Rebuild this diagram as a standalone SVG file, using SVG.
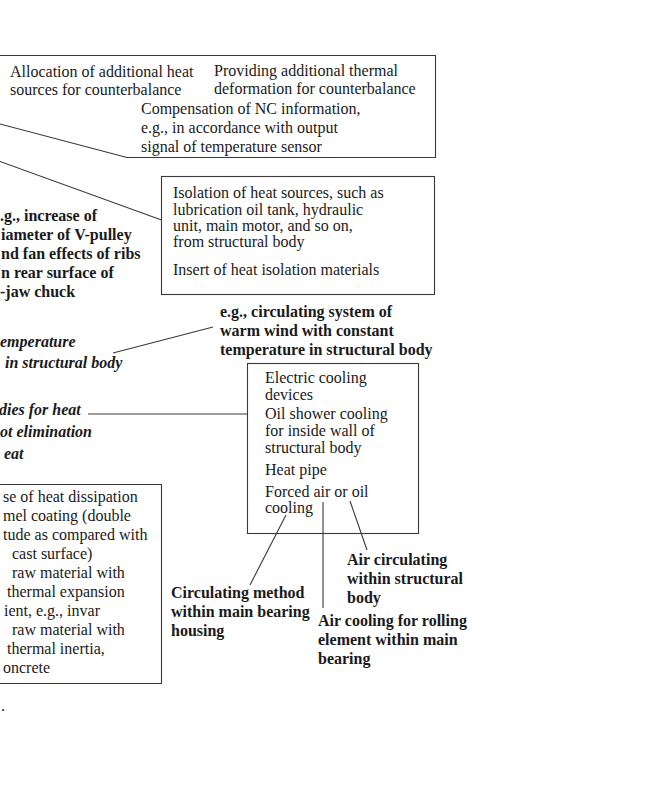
<svg xmlns="http://www.w3.org/2000/svg" width="652" height="800" viewBox="0 0 652 800">
<style>
text{font-family:"Liberation Serif","Times New Roman",serif;font-size:16px;fill:#1a1a1a}
.b{font-weight:bold}
.bi{font-weight:bold;font-style:italic}
.box{fill:none;stroke:#3a3a3a;stroke-width:1.1}
.ln{fill:none;stroke:#3a3a3a;stroke-width:1.1}
</style>
<rect width="652" height="800" fill="#fff"/>
<g id="connectors">
<line class="ln" x1="0" y1="124" x2="127" y2="157.5"/>
<line class="ln" x1="0" y1="161.5" x2="161.5" y2="220"/>
<line class="ln" x1="113" y1="353" x2="213" y2="327"/>
<line class="ln" x1="88" y1="414" x2="247" y2="414"/>
<line class="ln" x1="286" y1="515" x2="250" y2="585"/>
<line class="ln" x1="323" y1="502" x2="323" y2="608"/>
<line class="ln" x1="350" y1="501" x2="367" y2="550"/>
</g>
<g id="node-counterbalance">
<path class="box" d="M0,55.5 H435.5 V157.5 H127"/>
<text x="10" y="77">Allocation of additional heat</text>
<text x="10" y="95">sources for counterbalance</text>
<text x="214" y="76">Providing additional thermal</text>
<text x="214" y="94">deformation for counterbalance</text>
<text x="141" y="114">Compensation of NC information,</text>
<text x="141" y="133">e.g., in accordance with output</text>
<text x="141" y="152">signal of temperature sensor</text>
</g>
<g id="node-isolation">
<rect class="box" x="161.5" y="176.5" width="273" height="118"/>
<text x="173" y="198">Isolation of heat sources, such as</text>
<text x="173" y="215">lubrication oil tank, hydraulic</text>
<text x="173" y="231">unit, main motor, and so on,</text>
<text x="173" y="247">from structural body</text>
<text x="173" y="275">Insert of heat isolation materials</text>
</g>
<g id="node-vpulley">
<text class="b" x="0" y="221">.g., increase of</text>
<text class="b" x="1" y="240">iameter of V-pulley</text>
<text class="b" x="1" y="259">nd fan effects of ribs</text>
<text class="b" x="1" y="278">n rear surface of</text>
<text class="b" x="0" y="297">-jaw chuck</text>
</g>
<g id="node-constant-temp">
<text class="bi" x="0" y="347">emperature</text>
<text class="bi" x="5" y="368">in structural body</text>
</g>
<g id="node-warm-wind">
<text class="b" x="220" y="317">e.g., circulating system of</text>
<text class="b" x="220" y="336">warm wind with constant</text>
<text class="b" x="220" y="355">temperature in structural body</text>
</g>
<g id="node-remedies">
<text class="bi" x="-1" y="415">dies for heat</text>
<text class="bi" x="0" y="437">ot elimination</text>
<text class="bi" x="4" y="459">eat</text>
</g>
<g id="node-cooling">
<rect class="box" x="247.5" y="363.5" width="171" height="170"/>
<text x="265" y="383">Electric cooling</text>
<text x="265" y="400">devices</text>
<text x="265" y="419">Oil shower cooling</text>
<text x="265" y="436">for inside wall of</text>
<text x="265" y="453">structural body</text>
<text x="265" y="475">Heat pipe</text>
<text x="265" y="497">Forced air or oil</text>
<text x="265" y="513">cooling</text>
</g>
<g id="node-dissipation">
<path class="box" d="M0,484.5 H161.5 V683.5 H0"/>
<text x="3" y="502">se of heat dissipation</text>
<text x="3" y="521">mel coating (double</text>
<text x="3" y="540">tude as compared with</text>
<text x="12" y="559">cast surface)</text>
<text x="12" y="578">raw material with</text>
<text x="7" y="597">thermal expansion</text>
<text x="4" y="616">ient, e.g., invar</text>
<text x="12" y="635">raw material with</text>
<text x="7" y="654">thermal inertia,</text>
<text x="3" y="673">oncrete</text>
<text x="1" y="711">.</text>
</g>
<g id="node-circulating-method">
<text class="b" x="171" y="598">Circulating method</text>
<text class="b" x="171" y="617">within main bearing</text>
<text class="b" x="171" y="636">housing</text>
</g>
<g id="node-air-circulating">
<text class="b" x="347" y="565">Air circulating</text>
<text class="b" x="347" y="584">within structural</text>
<text class="b" x="347" y="603">body</text>
</g>
<g id="node-air-cooling">
<text class="b" x="318" y="626">Air cooling for rolling</text>
<text class="b" x="318" y="645">element within main</text>
<text class="b" x="318" y="664">bearing</text>
</g>
</svg>
